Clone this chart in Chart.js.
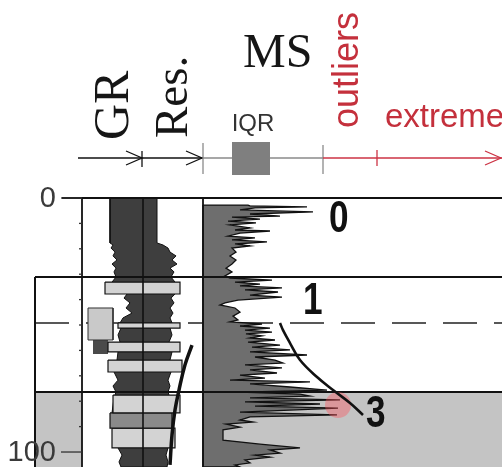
<!DOCTYPE html>
<html>
<head>
<meta charset="utf-8">
<script src="https://cdn.jsdelivr.net/npm/chart.js@4.4.0/dist/chart.umd.min.js"></script>
<style>
  html, body { margin: 0; padding: 0; background: #fff; }
  #wrap { width: 502px; height: 467px; }
</style>
</head>
<body>
<div id="wrap"><canvas id="logChart" width="502" height="467"></canvas></div>
<script>
// Well log panel - depth (m) downward, GR / Res. track and MS track

// zone boundaries and depth axis
const zoneBounds = [31.1, 76.4];
const dashedBounds = [49.2];
const depthLabels = [0, 100];
const depthMinorTicks = [10, 20, 30, 40, 50, 60, 70, 80, 90];

// GR (left of centre) and Res. (right of centre) log body
const logDepth = [0, 17.7, 18.5, 19.7, 21.3, 22.8, 24.4, 26.0, 27.6, 29.1,
                  31.1, 33.1, 37.8, 39.4, 41.3, 43.3, 45.3, 47.2, 49.2, 51.2,
                  53.9, 56.7, 60.6, 63.8, 68.5, 71.7, 74.0, 76.4, 78.7, 84.6,
                  90.6, 98.4, 101.2, 103.9, 105.9];
const grValue = [33, 33, 30, 32, 28, 30, 26, 31, 27, 29,
                 27, 31, 16, 19, 13, 17, 11, 20, 23, 22,
                 25, 23, 25, 26, 29, 25, 30, 27, 29, 31,
                 30, 25, 21, 24, 22];
const resValue = [14, 14, 20, 25, 27, 33, 29, 34, 27, 31,
                  28, 32, 32, 28, 31, 27, 30, 27, 29, 27,
                  29, 26, 29, 27, 28, 25, 27, 25, 27, 29,
                  27, 25, 23, 25, 24];

// lithology beds inside the GR / Res. track
const bedTop = [33.1, 49.2, 56.7, 63.8, 77.6, 84.6, 90.6];
const bedBase = [37.8, 51.2, 60.6, 68.5, 84.6, 90.6, 98.4];
const bedGr = [38, 25, 35, 35, 30, 33, 31];
const bedRes = [37, 37, 37, 39, 37, 29, 32];
const bedKind = ['sand', 'sand', 'sand', 'sand', 'sand', 'silt', 'sand'];

// core sample column
const coreTop = [43.3, 55.9];
const coreBase = [55.9, 61.4];
const coreOuter = [55, 50];
const coreInner = [30, 35];
const coreKind = ['light', 'dark'];

// trend curves
const resTrendDepth = [57.9, 65.7, 75.6, 83.5, 93.3, 105.1];
const resTrendValue = [49, 42, 36, 32, 29, 27];
const msTrendDepth = [49.2, 52.0, 57.1, 63.8, 70.5, 75.6, 80.7, 85.4];
const msTrendValue = [77, 80, 87, 97, 114, 130, 147, 160];

// magnetic susceptibility log
const msDepth = [2.8, 3.1, 3.5, 3.9, 4.7, 5.5, 6.3, 7.1, 7.5, 8.3,
                 9.1, 9.8, 10.6, 11.8, 12.6, 13.0, 13.8, 15.0, 15.7, 16.5,
                 17.3, 18.1, 18.9, 19.7, 21.3, 22.8, 24.4, 26.0, 27.6, 29.1,
                 30.7, 31.5, 32.3, 33.1, 33.9, 34.6, 35.4, 36.2, 37.0, 38.2,
                 39.0, 40.2, 41.3, 42.1, 43.3, 44.9, 46.5, 48.0, 48.8, 49.6,
                 50.4, 51.2, 52.0, 52.8, 53.5, 54.3, 55.1, 55.9, 56.7, 57.9,
                 58.7, 59.8, 60.6, 61.8, 62.6, 63.8, 65.0, 65.7, 66.9, 67.7,
                 68.9, 69.7, 70.9, 71.7, 72.4, 73.2, 74.4, 75.6, 76.4, 77.2,
                 78.0, 78.7, 79.5, 80.3, 81.1, 81.9, 82.7, 83.5, 84.3, 85.4,
                 86.2, 87.4, 88.2, 89.0, 90.2, 91.3, 95.3, 96.9, 98.4, 99.2,
                 100.4, 101.2, 102.0, 103.1, 104.3, 105.1, 105.9];
const msValue = [45, 47, 104, 52, 37, 110, 47, 77, 29, 57,
                 25, 53, 27, 47, 32, 67, 37, 25, 52, 29,
                 64, 32, 47, 29, 33, 27, 33, 29, 23, 29,
                 22, 27, 69, 32, 57, 37, 79, 42, 75, 47,
                 79, 35, 22, 17, 32, 37, 30, 35, 27, 59,
                 37, 67, 42, 69, 43, 59, 47, 72, 45, 77,
                 49, 87, 47, 104, 52, 72, 80, 42, 79, 47,
                 74, 37, 62, 27, 107, 47, 87, 124, 37, 97,
                 107, 47, 137, 42, 117, 52, 135, 87, 37, 134,
                 47, 37, 50, 23, 37, 20, 20, 57, 97, 67,
                 77, 52, 67, 42, 47, 32, 37];

// extreme value highlighted in red
const hotDepth = [81.5];
const hotValue = [135];

// layout of tracks along the x scale
const X_MAX = 467;
const TRACK1_LEFT = 47;
const CENTER = 108;
const MS_LEFT = 168;
const DEPTH_MAX = 105.9;
const TOP_LINE_START = 27;

const closed = pts => pts.concat([pts[0]]);
const box = (x0, x1, d0, d1) => closed([{x: x0, y: d0}, {x: x1, y: d0}, {x: x1, y: d1}, {x: x0, y: d1}]);

function shape(points, bg, border, width, order) {
    return {
        data: points, fill: 'shape', backgroundColor: bg,
        borderColor: border, borderWidth: width, pointRadius: 0,
        tension: 0, clip: false, order: order
    };
}
function stroke(points, color, width, order, extra) {
    return Object.assign({
        data: points, fill: false, borderColor: color, borderWidth: width,
        pointRadius: 0, tension: 0, clip: false, order: order
    }, extra || {});
}

const datasets = [];

// grey zone below the last boundary
const lastZone = zoneBounds[zoneBounds.length - 1];
datasets.push(shape(box(0, TRACK1_LEFT, lastZone, DEPTH_MAX), '#c4c4c4', 'rgba(0,0,0,0)', 0, 100));
datasets.push(shape(box(MS_LEFT, X_MAX, lastZone, DEPTH_MAX), '#c4c4c4', 'rgba(0,0,0,0)', 0, 100));

// dashed boundary
dashedBounds.forEach(d => {
    datasets.push(stroke([{x: 0, y: d}, {x: X_MAX, y: d}], '#222', 1.6, 95, {borderDash: [34, 17]}));
});

// MS log
const msPts = [{x: MS_LEFT, y: msDepth[0]}];
msDepth.forEach((d, i) => msPts.push({x: MS_LEFT + msValue[i], y: d}));
msPts.push({x: MS_LEFT, y: msDepth[msDepth.length - 1]});
datasets.push(shape(closed(msPts), '#6e6e6e', '#111', 1.3, 80));

// GR / Res. body
const bodyPts = logDepth.map((d, i) => ({x: CENTER - grValue[i], y: d}));
for (let i = logDepth.length - 1; i >= 0; i--) bodyPts.push({x: CENTER + resValue[i], y: logDepth[i]});
datasets.push(shape(closed(bodyPts), '#3e3e3e', '#111', 1, 70));

const bedColors = {sand: '#d3d3d3', silt: '#8a8a8a'};
bedTop.forEach((t, i) => {
    datasets.push(shape(box(CENTER - bedGr[i], CENTER + bedRes[i], t, bedBase[i]), bedColors[bedKind[i]], '#111', 1.2, 60));
});

const coreColors = {light: '#c9c9c9', dark: '#4a4a4a'};
coreTop.forEach((t, i) => {
    datasets.push(shape(box(CENTER - coreOuter[i], CENTER - coreInner[i], t, coreBase[i]),
        coreColors[coreKind[i]], coreKind[i] === 'light' ? '#333' : 'rgba(0,0,0,0)', 1, 60));
});

// solid boundaries and frame
datasets.push(stroke([{x: TOP_LINE_START, y: 0}, {x: X_MAX, y: 0}], '#111', 2, 50));
zoneBounds.forEach(d => datasets.push(stroke([{x: 0, y: d}, {x: X_MAX, y: d}], '#111', 2, 50)));
datasets.push(stroke([{x: 0, y: zoneBounds[0]}, {x: 0, y: DEPTH_MAX}], '#111', 2, 50));
[TRACK1_LEFT, CENTER, MS_LEFT].forEach(x => {
    datasets.push(stroke([{x: x, y: 0}, {x: x, y: DEPTH_MAX}], '#111', x === CENTER ? 1.6 : 1.8, 50));
});

// red extreme marker
datasets.push({
    data: hotDepth.map((d, i) => ({x: MS_LEFT + hotValue[i], y: d})),
    showLine: false, pointRadius: 13, pointBackgroundColor: 'rgba(255, 80, 90, 0.38)',
    pointBorderWidth: 0, clip: false, order: 40
});

// trend curves
datasets.push(stroke(resTrendDepth.map((d, i) => ({x: CENTER + resTrendValue[i], y: d})), '#111', 3.5, 30, {tension: 0.4}));
datasets.push(stroke(msTrendDepth.map((d, i) => ({x: MS_LEFT + msTrendValue[i], y: d})), '#111', 2.6, 30, {tension: 0.4}));

// zone numbers
const zoneNames = ['0', '1', '3'];
const zoneNameDepth = [13.4, 45.7, 90.2];
const zoneNameX = [294, 268, 331];

const depthAxisPlugin = {
    id: 'depthAxis',
    afterDatasetsDraw(chart) {
        const ctx = chart.ctx;
        const x = chart.scales.x, y = chart.scales.y;
        const ax = x.getPixelForValue(TRACK1_LEFT);
        ctx.save();
        ctx.strokeStyle = '#333';
        ctx.lineWidth = 1.3;
        depthMinorTicks.forEach(d => {
            const py = y.getPixelForValue(d);
            ctx.beginPath(); ctx.moveTo(ax - 3, py); ctx.lineTo(ax, py); ctx.stroke();
        });
        ctx.fillStyle = '#3a3a3a';
        ctx.font = '29px "Liberation Sans", Arial, sans-serif';
        ctx.textAlign = 'right';
        ctx.textBaseline = 'middle';
        depthLabels.forEach(d => {
            const py = y.getPixelForValue(d);
            ctx.beginPath(); ctx.moveTo(ax - 21, py); ctx.lineTo(ax, py); ctx.stroke();
            ctx.fillText(String(d), ax - 26, py + 1);
        });
        // zone numbers
        ctx.fillStyle = '#111';
        ctx.font = 'bold 44px "Liberation Sans", Arial, sans-serif';
        ctx.textAlign = 'left';
        ctx.textBaseline = 'alphabetic';
        zoneNames.forEach((t, i) => {
            ctx.save();
            ctx.translate(x.getPixelForValue(zoneNameX[i]), y.getPixelForValue(zoneNameDepth[i]));
            ctx.scale(0.8, 1);
            ctx.fillText(t, 0, 0);
            ctx.restore();
        });
        ctx.restore();
    }
};

function chevron(ctx, x, y) {
    ctx.beginPath();
    ctx.moveTo(x - 16, y - 7); ctx.lineTo(x, y); ctx.lineTo(x - 16, y + 7);
    ctx.stroke();
}
function vtick(ctx, x, y0, y1) {
    ctx.beginPath(); ctx.moveTo(x, y0); ctx.lineTo(x, y1); ctx.stroke();
}

const headerPlugin = {
    id: 'header',
    afterDraw(chart) {
        const ctx = chart.ctx;
        ctx.save();
        ctx.fillStyle = '#161616';
        ctx.textBaseline = 'alphabetic';
        ctx.textAlign = 'left';
        // rotated track titles
        ctx.font = '50px "Liberation Serif", "Times New Roman", serif';
        ctx.save(); ctx.translate(128, 140); ctx.rotate(-Math.PI / 2); ctx.fillText('GR', 0, 0); ctx.restore();
        ctx.font = '47px "Liberation Serif", "Times New Roman", serif';
        ctx.save(); ctx.translate(187, 138); ctx.rotate(-Math.PI / 2); ctx.fillText('Res.', 0, 0); ctx.restore();
        ctx.font = '48px "Liberation Serif", "Times New Roman", serif';
        ctx.fillText('MS', 243, 67);

        ctx.fillStyle = '#333';
        ctx.font = '24px "Liberation Sans", Arial, sans-serif';
        ctx.textAlign = 'center';
        ctx.fillText('IQR', 253, 131);

        ctx.fillStyle = '#c4303c';
        ctx.textAlign = 'left';
        ctx.font = '36px "Liberation Sans", Arial, sans-serif';
        ctx.save(); ctx.translate(358, 128); ctx.rotate(-Math.PI / 2); ctx.fillText('outliers', 0, 0); ctx.restore();
        ctx.font = '33px "Liberation Sans", Arial, sans-serif';
        ctx.fillText('extreme', 385, 127);

        // scale bar with arrows
        const yb = 158;
        ctx.lineWidth = 1.3;
        ctx.strokeStyle = '#111';
        ctx.beginPath(); ctx.moveTo(78, yb); ctx.lineTo(203, yb); ctx.stroke();
        chevron(ctx, 142, yb);
        chevron(ctx, 202, yb);
        vtick(ctx, 142, 151, 167);
        ctx.strokeStyle = '#8a8a8a';
        vtick(ctx, 203, 143, 174);
        ctx.beginPath(); ctx.moveTo(203, yb); ctx.lineTo(323, yb); ctx.stroke();
        ctx.fillStyle = '#7f7f7f';
        ctx.fillRect(232, 142, 38, 33);
        vtick(ctx, 323, 145, 174);
        ctx.strokeStyle = '#cc3344';
        ctx.beginPath(); ctx.moveTo(323, yb); ctx.lineTo(502, yb); ctx.stroke();
        vtick(ctx, 377, 150, 166);
        chevron(ctx, 501, yb);
        ctx.restore();
    }
};

const logChart = new Chart(document.getElementById('logChart'), {
    type: 'line',
    data: { datasets: datasets },
    options: {
        responsive: false,
        animation: false,
        events: [],
        layout: { autoPadding: false, padding: { top: 198, left: 35, right: 0, bottom: 0 } },
        scales: {
            x: { type: 'linear', min: 0, max: X_MAX, display: false },
            y: { type: 'linear', min: 0, max: DEPTH_MAX, reverse: true, display: false }
        },
        plugins: {
            legend: { display: false },
            tooltip: { enabled: false }
        }
    },
    plugins: [depthAxisPlugin, headerPlugin]
});
</script>
</body>
</html>
